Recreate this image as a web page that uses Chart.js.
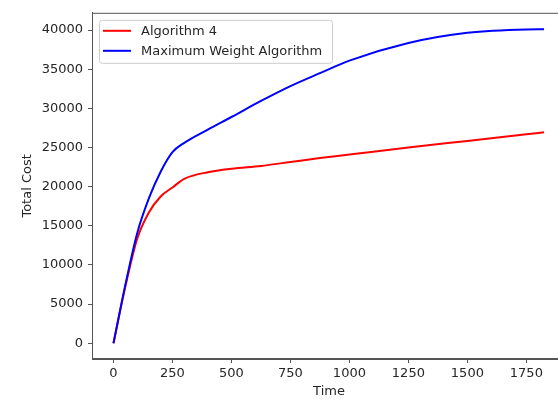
<!DOCTYPE html>
<html lang="en">
<head>
<meta charset="UTF-8">
<title>Total Cost over Time</title>
<script src="https://cdn.jsdelivr.net/npm/chart.js"></script>
<style>
    html, body { margin: 0; padding: 0; background: #fff; overflow: hidden; }
    canvas { display: block; }
</style>
</head>
<body>
<canvas id="myChart" width="566" height="400"></canvas>
<script>
    // values
    const times = [0, 50, 100, 150, 200, 250, 300, 400, 500, 625, 750, 875, 1000, 1250, 1500, 1750, 1825];
    const algo4Cost = [0, 7200, 13300, 16700, 18750, 19900, 21000, 21850, 22300, 22650, 23150, 23650, 24100, 25000, 25850, 26700, 26950];
    const maxWeightCost = [0, 7400, 14000, 18500, 21900, 24400, 25600, 27300, 28900, 30950, 32850, 34500, 36100, 38350, 39650, 40090, 40110];
    const seriesNames = ["Algorithm 4", "Maximum Weight Algorithm"];
    const seriesColors = ["#ff0000", "#0000ff"];
    const xTicks = [0, 250, 500, 750, 1000, 1250, 1500, 1750];
    const yTicks = [0, 5000, 10000, 15000, 20000, 25000, 30000, 35000, 40000];

    const font = { family: "DejaVu Sans", size: 13 };
    const ink = "#262626";
    const axisColor = "#555555";

    function points(ys) {
        return times.map((t, i) => ({ x: t, y: ys[i] }));
    }

    // frame + legend drawn like matplotlib
    const mplBits = {
        id: "mplBits",
        afterDatasetsDraw(chart) {
            const ctx = chart.ctx;
            const a = chart.chartArea;
            ctx.save();
            ctx.strokeStyle = axisColor;
            ctx.lineWidth = 1;
            ctx.strokeRect(a.left + 0.5, a.top + 0.5, a.right - a.left - 1, a.bottom - a.top - 1);

            const bx = a.left + 7, by = a.top + 7, bw = 233, bh = 43;
            ctx.fillStyle = "rgba(255,255,255,0.8)";
            ctx.strokeStyle = "#cccccc";
            ctx.beginPath();
            ctx.roundRect(bx + 0.5, by + 0.5, bw, bh, 3);
            ctx.fill();
            ctx.stroke();

            ctx.font = font.size + "px " + font.family;
            ctx.textBaseline = "middle";
            chart.data.datasets.forEach((ds, i) => {
                const y = by + 11 + i * 20;
                ctx.strokeStyle = ds.borderColor;
                ctx.lineWidth = 2;
                ctx.beginPath();
                ctx.moveTo(bx + 4, y);
                ctx.lineTo(bx + 32, y);
                ctx.stroke();
                ctx.fillStyle = ink;
                ctx.fillText(ds.label, bx + 42, y + 1);
            });
            ctx.restore();
        }
    };

    new Chart(document.getElementById("myChart"), {
        type: "line",
        data: {
            datasets: [
                {
                    label: seriesNames[0],
                    data: points(algo4Cost),
                    borderColor: seriesColors[0],
                    borderWidth: 2,
                    pointRadius: 0,
                    cubicInterpolationMode: "monotone",
                    order: 1
                },
                {
                    label: seriesNames[1],
                    data: points(maxWeightCost),
                    borderColor: seriesColors[1],
                    borderWidth: 2,
                    pointRadius: 0,
                    cubicInterpolationMode: "monotone",
                    order: 0
                }
            ]
        },
        options: {
            responsive: false,
            animation: false,
            layout: { padding: { top: 5, right: 0, left: 0, bottom: 0 } },
            plugins: {
                legend: { display: false },
                tooltip: { enabled: false }
            },
            scales: {
                x: {
                    type: "linear",
                    min: -91,
                    max: 1918,
                    afterFit(s) { s.height = 41; },
                    afterBuildTicks(s) { s.ticks = xTicks.map(v => ({ value: v })); },
                    grid: { drawOnChartArea: false, drawTicks: true, tickLength: 4, color: axisColor },
                    border: { color: axisColor },
                    ticks: { font: font, color: ink, padding: 3, maxRotation: 0, callback: v => String(v) },
                    title: { display: true, text: "Time", font: font, color: ink, padding: { top: 0, bottom: 1 } }
                },
                y: {
                    min: -2010,
                    max: 42210,
                    afterFit(s) { s.width = 92; },
                    afterBuildTicks(s) { s.ticks = yTicks.map(v => ({ value: v })); },
                    grid: { drawOnChartArea: false, drawTicks: true, tickLength: 4, color: axisColor },
                    border: { color: axisColor },
                    ticks: { font: font, color: ink, padding: 5, callback: v => String(v) },
                    title: { display: true, text: "Total Cost", font: font, color: ink, padding: { top: 20, bottom: 0 } }
                }
            }
        },
        plugins: [mplBits]
    });
</script>
</body>
</html>
